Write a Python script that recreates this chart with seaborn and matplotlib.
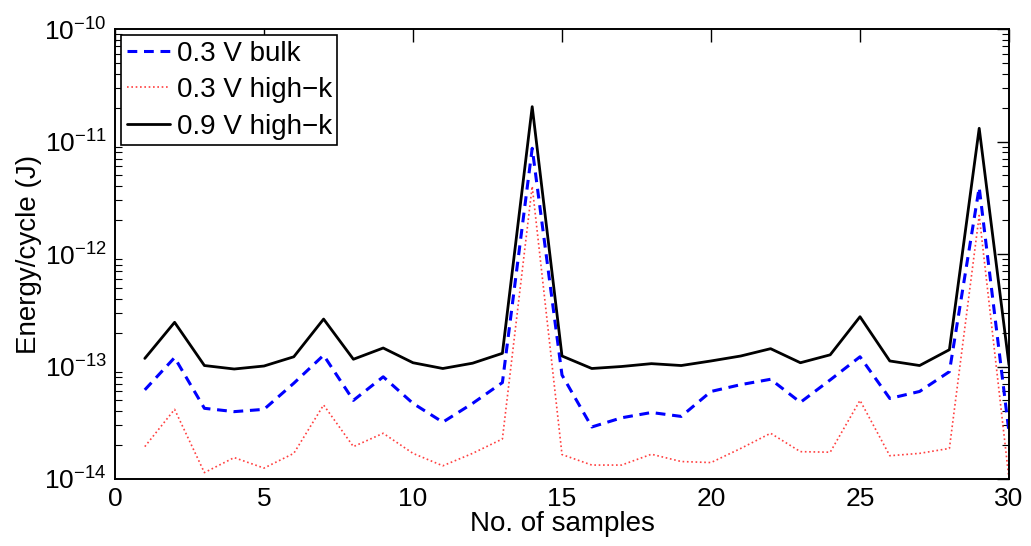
import numpy as np
import pandas as pd
import matplotlib
matplotlib.use("Agg")
import matplotlib.pyplot as plt
import seaborn as sns
from matplotlib.ticker import FixedLocator, LogFormatterMathtext, NullFormatter

samples = list(range(1, 31))
bulk_03 = [6.2e-14, 1.2e-13, 4.25e-14, 3.97e-14, 4.16e-14, 7.1e-14, 1.26e-13, 5.0e-14, 8.1e-14, 4.7e-14,
           3.2e-14, 4.7e-14, 7.2e-14, 8.7e-12, 8.4e-14, 2.9e-14, 3.5e-14, 3.9e-14, 3.6e-14, 6.0e-14,
           6.9e-14, 7.7e-14, 4.8e-14, 7.6e-14, 1.22e-13, 5.2e-14, 6.0e-14, 9.0e-14, 3.9e-12, 2.6e-14]
highk_03 = [1.94e-14, 4.16e-14, 1.14e-14, 1.55e-14, 1.25e-14, 1.69e-14, 4.55e-14, 1.94e-14, 2.55e-14, 1.69e-14,
            1.31e-14, 1.69e-14, 2.27e-14, 4.0e-12, 1.65e-14, 1.33e-14, 1.33e-14, 1.66e-14, 1.43e-14, 1.4e-14,
            1.87e-14, 2.55e-14, 1.75e-14, 1.73e-14, 5.0e-14, 1.61e-14, 1.69e-14, 1.87e-14, 2.2e-12, 1.0e-14]
highk_09 = [1.18e-13, 2.47e-13, 1.02e-13, 9.5e-14, 1.01e-13, 1.22e-13, 2.64e-13, 1.16e-13, 1.46e-13, 1.08e-13,
            9.6e-14, 1.07e-13, 1.31e-13, 2.04e-11, 1.24e-13, 9.6e-14, 1.0e-13, 1.06e-13, 1.02e-13, 1.12e-13,
            1.24e-13, 1.44e-13, 1.08e-13, 1.27e-13, 2.77e-13, 1.12e-13, 1.02e-13, 1.41e-13, 1.31e-11, 1.03e-13]
labels = ["0.3 V bulk", "0.3 V high\u2212k", "0.9 V high\u2212k"]
x_ticks = [0, 5, 10, 15, 20, 25, 30]
y_decades = [1e-14, 1e-13, 1e-12, 1e-11, 1e-10]

sns.set_style("white")
plt.rcParams['font.family'] = ['Liberation Sans', 'DejaVu Sans']
plt.rcParams['mathtext.fontset'] = 'custom'
plt.rcParams['mathtext.rm'] = 'Liberation Sans'
plt.rcParams['mathtext.it'] = 'Liberation Sans:italic'
plt.rcParams['mathtext.bf'] = 'Liberation Sans:bold'
for k in ['text.color', 'axes.labelcolor', 'xtick.color', 'ytick.color', 'axes.edgecolor']:
    plt.rcParams[k] = 'black'

fig = plt.figure(figsize=(10.31, 5.46), dpi=100)
ax = fig.add_axes([115 / 1031, 1 - 479 / 546, (1009 - 115) / 1031, (479 - 29) / 546])

df = pd.DataFrame({"x": samples, "bulk": bulk_03, "hk03": highk_03, "hk09": highk_09})
sns.lineplot(data=df, x="x", y="bulk", ax=ax, color="blue", linestyle=(0, (3.2, 2.2)), linewidth=2.2, label=labels[0])
sns.lineplot(data=df, x="x", y="hk03", ax=ax, color="#ff4040", linestyle=(0, (1, 1.6)), linewidth=1.2, label=labels[1])
sns.lineplot(data=df, x="x", y="hk09", ax=ax, color="black", linestyle="-", linewidth=2.0, label=labels[2])

ax.set_yscale("log")
ax.set_xlim(0, 30)
ax.set_ylim(1e-14, 1e-10)
ax.set_xticks(x_ticks)
ax.set_xticklabels([str(t) for t in x_ticks])
minor = [m * d for d in y_decades[:-1] for m in range(2, 10)]
ax.yaxis.set_major_locator(FixedLocator(y_decades))
ax.yaxis.set_major_formatter(LogFormatterMathtext())
ax.yaxis.set_minor_locator(FixedLocator(minor))
ax.yaxis.set_minor_formatter(NullFormatter())

ax.tick_params(axis="both", which="major", direction="in", length=9, width=1.0, labelsize=19,
               top=True, right=True, pad=6)
ax.tick_params(axis="y", which="minor", direction="in", length=5, width=0.8, left=True, right=True)
for s in ax.spines.values():
    s.set_visible(True)
    s.set_linewidth(1.4)
    s.set_color("black")

ax.set_xlabel("No. of samples", fontsize=20, labelpad=0)
ax.set_ylabel("Energy/cycle (J)", fontsize=20, labelpad=2)

leg = ax.legend(loc="upper left", fontsize=20, frameon=True, fancybox=False, framealpha=1,
                edgecolor="black", borderaxespad=0.22, handlelength=1.55, handletextpad=0.25,
                labelspacing=0.38, borderpad=0.2)
leg.get_frame().set_linewidth(1.2)

fig.savefig("out.png", dpi=100)
